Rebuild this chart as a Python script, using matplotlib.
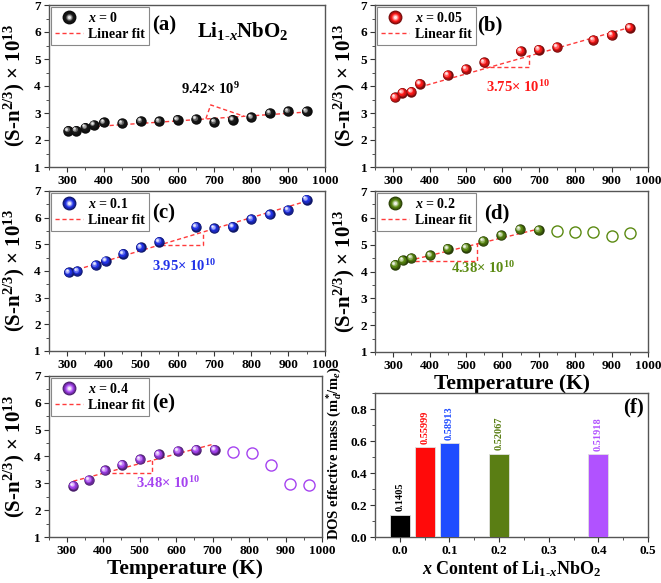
import matplotlib
matplotlib.use("Agg")
import matplotlib.pyplot as plt
import numpy as np
from matplotlib.colors import to_rgb
from matplotlib.lines import Line2D
from matplotlib.legend_handler import HandlerTuple
from matplotlib.transforms import offset_copy
from matplotlib.ticker import MultipleLocator, FormatStrFormatter

plt.rcParams["font.family"] = ["Liberation Serif", "DejaVu Serif"]
plt.rcParams["font.weight"] = "bold"
plt.rcParams["mathtext.fontset"] = "custom"
plt.rcParams["mathtext.rm"] = "Liberation Serif:bold"
plt.rcParams["mathtext.it"] = "Liberation Serif:italic:bold"
plt.rcParams["mathtext.bf"] = "Liberation Serif:bold"

# ---- data ----
T_a = [303, 325, 350, 373, 400, 450, 500, 550, 600, 650, 700, 750, 800, 850, 900, 950]
S_a = [2.34, 2.35, 2.46, 2.56, 2.65, 2.62, 2.70, 2.69, 2.75, 2.77, 2.67, 2.75, 2.84, 3.00, 3.06, 3.06]
fitT_a, fitS_a = [303, 955], [2.43, 3.04]
triT_a, triS_a = [677, 690, 780], [2.79, 3.30, 2.88]

T_b = [305, 325, 350, 373, 450, 500, 550, 650, 700, 750, 850, 900, 950]
S_b = [3.58, 3.75, 3.79, 4.08, 4.41, 4.63, 4.88, 5.29, 5.35, 5.44, 5.70, 5.89, 6.16]
fitT_b, fitS_b = [373, 950], [3.96, 6.17]
triT_b, triS_b = [547, 673, 673], [4.69, 4.69, 5.16]

T_c = [305, 328, 378, 405, 452, 500, 550, 650, 700, 750, 800, 850, 900, 950]
S_c = [3.95, 4.00, 4.22, 4.38, 4.65, 4.89, 5.10, 5.66, 5.60, 5.66, 5.95, 6.12, 6.29, 6.68]
fitT_c, fitS_c = [310, 950], [3.98, 6.62]
triT_c, triS_c = [555, 668, 668], [4.98, 4.98, 5.48]

T_d = [305, 326, 350, 402, 450, 500, 548, 597, 648, 700]
S_d = [4.25, 4.41, 4.50, 4.60, 4.85, 4.89, 5.14, 5.35, 5.57, 5.54]
T_d_open = [750, 800, 850, 900, 950]
S_d_open = [5.51, 5.48, 5.48, 5.33, 5.45]
fitT_d, fitS_d = [305, 710], [4.28, 5.62]
triT_d, triS_d = [360, 529, 529], [4.39, 4.39, 5.10]

T_e = [318, 361, 405, 452, 501, 552, 605, 655, 706]
S_e = [2.91, 3.12, 3.48, 3.69, 3.89, 4.08, 4.20, 4.25, 4.25]
T_e_open = [757, 809, 859, 912, 964]
S_e_open = [4.16, 4.14, 3.69, 2.99, 2.95]
fitT_e, fitS_e = [318, 697], [3.08, 4.44]
triT_e, triS_e = [405, 535, 535], [3.39, 3.39, 3.88]

x_content = [0.0, 0.05, 0.1, 0.2, 0.4]
dos_mass = [0.1405, 0.55999, 0.58913, 0.52067, 0.51918]
dos_labels = ["0.1405", "0.55999", "0.58913", "0.52067", "0.51918"]

colors = ["#1a1a1a", "#ff1a1a", "#2233e8", "#5b8a12", "#a543f0"]
bar_colors = ["#000000", "#ff0a0a", "#1f4cff", "#5a7e14", "#b152ff"]
fit_color = "#ff3b3b"

fig = plt.figure(figsize=(6.61, 5.83), dpi=100)
W, H = 661.0, 583.0


def make_axes(l, r, t, b):
    return fig.add_axes([l / W, 1 - b / H, (r - l) / W, (b - t) / H])


def shade(color, f):
    base = np.array(to_rgb(color))
    dark = base * 0.45
    if f < 0.5:
        return tuple(dark + (base - dark) * (f / 0.5))
    return tuple(base + (np.ones(3) - base) * (f - 0.5) / 0.5 * 0.9)


def sphere_layers(ms, n=7):
    out = []
    for i in range(n):
        f = i / (n - 1)
        out.append((f, ms * (1 - 0.78 * f), -0.2 * ms * f, 0.2 * ms * f))
    return out


def spheres(ax, T, S, color, ms=7.5):
    for k, (f, size, dx, dy) in enumerate(sphere_layers(ms)):
        tr = offset_copy(ax.transData, fig=fig, x=dx, y=dy, units="points")
        ax.plot(T, S, ls="none", marker="o", ms=size, mfc=shade(color, f),
                mec="none", transform=tr, zorder=5 + k * 0.01)


def sphere_handle(color, ms=10):
    return tuple(Line2D([], [], ls="none", marker="o", ms=size,
                        mfc=shade(color, f), mec="none")
                 for f, size, dx, dy in sphere_layers(ms))


def style(ax):
    for s in ax.spines.values():
        s.set_color("#555555")
        s.set_linewidth(1.0)
    ax.tick_params(which="both", direction="out", colors="#333333",
                   labelsize=9.5, pad=2)
    ax.tick_params(which="major", length=3.5)
    ax.tick_params(which="minor", length=2)
    for lab in ax.get_xticklabels() + ax.get_yticklabels():
        lab.set_fontweight("bold")
        lab.set_color("black")


def temp_panel(ax, T, S, color, label, tag, fitT, fitS, triT, triS,
               slope_txt, txt_pos, tag_pos, To=None, So=None):
    ax.set_xlim(250, 1000)
    ax.set_ylim(1, 7)
    ax.xaxis.set_major_locator(MultipleLocator(100))
    ax.xaxis.set_minor_locator(MultipleLocator(50))
    ax.yaxis.set_major_locator(MultipleLocator(1))
    ax.yaxis.set_minor_locator(MultipleLocator(0.5))
    ax.plot(fitT, fitS, ls=(0, (3, 2)), color=fit_color, lw=1.0, zorder=4)
    ax.plot(triT, triS, ls=(0, (3, 2)), color=fit_color, lw=1.0, zorder=4)
    spheres(ax, T, S, color)
    if To is not None:
        ax.plot(To, So, ls="none", marker="o", ms=8, mfc="none", mec=color,
                mew=1.0, zorder=5)
    txt_col = "black" if color == colors[0] else color
    ax.text(txt_pos[0], txt_pos[1], slope_txt, color=txt_col, fontsize=10.5,
            fontweight="bold", ha="center", va="center")
    ax.text(tag_pos[0], tag_pos[1], tag, transform=ax.transAxes,
            fontsize=15, fontweight="bold", ha="left", va="center", zorder=10)
    fit_h = Line2D([], [], ls=(0, (3, 2)), color=fit_color, lw=1.0)
    leg = ax.legend([sphere_handle(color), fit_h], [label, "Linear fit"],
                    handler_map={tuple: HandlerTuple(ndivide=1, pad=0)},
                    loc="upper left", bbox_to_anchor=(0.0, 1.0),
                    borderaxespad=0.15, fancybox=False, framealpha=1,
                    edgecolor="#888888", fontsize=10, handlelength=2.0,
                    handletextpad=0.4, borderpad=0.3, labelspacing=0.2)
    leg.get_frame().set_linewidth(0.8)
    ax.set_ylabel(r"(S-n$^{2/3}$) $\times$ 10$^{13}$", fontsize=15,
                  fontweight="bold")
    style(ax)


ax_a = make_axes(48.5, 325, 5, 167)
ax_b = make_axes(375, 648, 5, 167)
ax_c = make_axes(48.5, 325, 191, 351)
ax_d = make_axes(375, 648, 191, 352)
ax_e = make_axes(48.5, 322, 376, 537)
ax_f = make_axes(375, 648, 393, 537)

temp_panel(ax_a, T_a, S_a, colors[0], r"$x$ = 0", "(a)", fitT_a, fitS_a,
           triT_a, triS_a, r"9.42$\times$ 10$^{9}$", (690, 3.9), (0.375, 0.875))
ax_a.text(776, 6.05, r"Li$_{1\text{-}x}$NbO$_2$", fontsize=15, fontweight="bold",
          ha="center", va="center")
temp_panel(ax_b, T_b, S_b, colors[1], r"$x$ = 0.05", "(b)", fitT_b, fitS_b,
           triT_b, triS_b, r"3.75$\times$ 10$^{10}$", (643, 3.95), (0.375, 0.875))
temp_panel(ax_c, T_c, S_c, colors[2], r"$x$ = 0.1", "(c)", fitT_c, fitS_c,
           triT_c, triS_c, r"3.95$\times$ 10$^{10}$", (618, 4.17), (0.375, 0.86))
temp_panel(ax_d, T_d, S_d, colors[3], r"$x$ = 0.2", "(d)", fitT_d, fitS_d,
           triT_d, triS_d, r"4.38$\times$ 10$^{10}$", (547, 4.14), (0.40, 0.86),
           T_d_open, S_d_open)
temp_panel(ax_e, T_e, S_e, colors[4], r"$x$ = 0.4", "(e)", fitT_e, fitS_e,
           triT_e, triS_e, r"3.48$\times$ 10$^{10}$", (577, 3.0), (0.38, 0.83),
           T_e_open, S_e_open)

for ax in (ax_a, ax_c, ax_e):
    ax.yaxis.set_label_coords(-0.078, 0.5)
for ax in (ax_b, ax_d):
    ax.yaxis.set_label_coords(-0.066, 0.5)

ax_d.set_xlabel("Temperature (K)", fontsize=15.5, fontweight="bold", labelpad=2)
ax_e.set_xlabel("Temperature (K)", fontsize=15.5, fontweight="bold", labelpad=2)

# ---- panel (f) ----
ax_f.bar(x_content, dos_mass, width=0.04, color=bar_colors,
         edgecolor="#e0e0e0", linewidth=0.6, zorder=3)
for xc, v, lab, c in zip(x_content, dos_mass, dos_labels, bar_colors):
    ax_f.text(xc, v + 0.02, lab, rotation=90, ha="center", va="bottom",
              fontsize=7.5, fontweight="bold", color=c)
ax_f.set_xlim(-0.05, 0.5)
ax_f.set_ylim(0, 0.9)
ax_f.xaxis.set_major_locator(MultipleLocator(0.1))
ax_f.xaxis.set_minor_locator(MultipleLocator(0.05))
ax_f.yaxis.set_major_locator(MultipleLocator(0.2))
ax_f.yaxis.set_minor_locator(MultipleLocator(0.1))
ax_f.xaxis.set_major_formatter(FormatStrFormatter("%.1f"))
ax_f.yaxis.set_major_formatter(FormatStrFormatter("%.1f"))
ax_f.text(0.985, 0.9, "(f)", transform=ax_f.transAxes, fontsize=15,
          fontweight="bold", ha="right", va="center")
ax_f.set_xlabel(r"$x$ Content of Li$_{1\text{-}x}$NbO$_2$", fontsize=13,
                fontweight="bold", labelpad=2)
ax_f.set_ylabel(r"DOS effective mass (m$^{*}_{d}$/m$_{e}$)", fontsize=10.5,
                fontweight="bold")
ax_f.yaxis.label.set_horizontalalignment("left")
ax_f.yaxis.set_label_coords(-0.115, -0.02)
style(ax_f)

fig.savefig("out.png", dpi=100)
